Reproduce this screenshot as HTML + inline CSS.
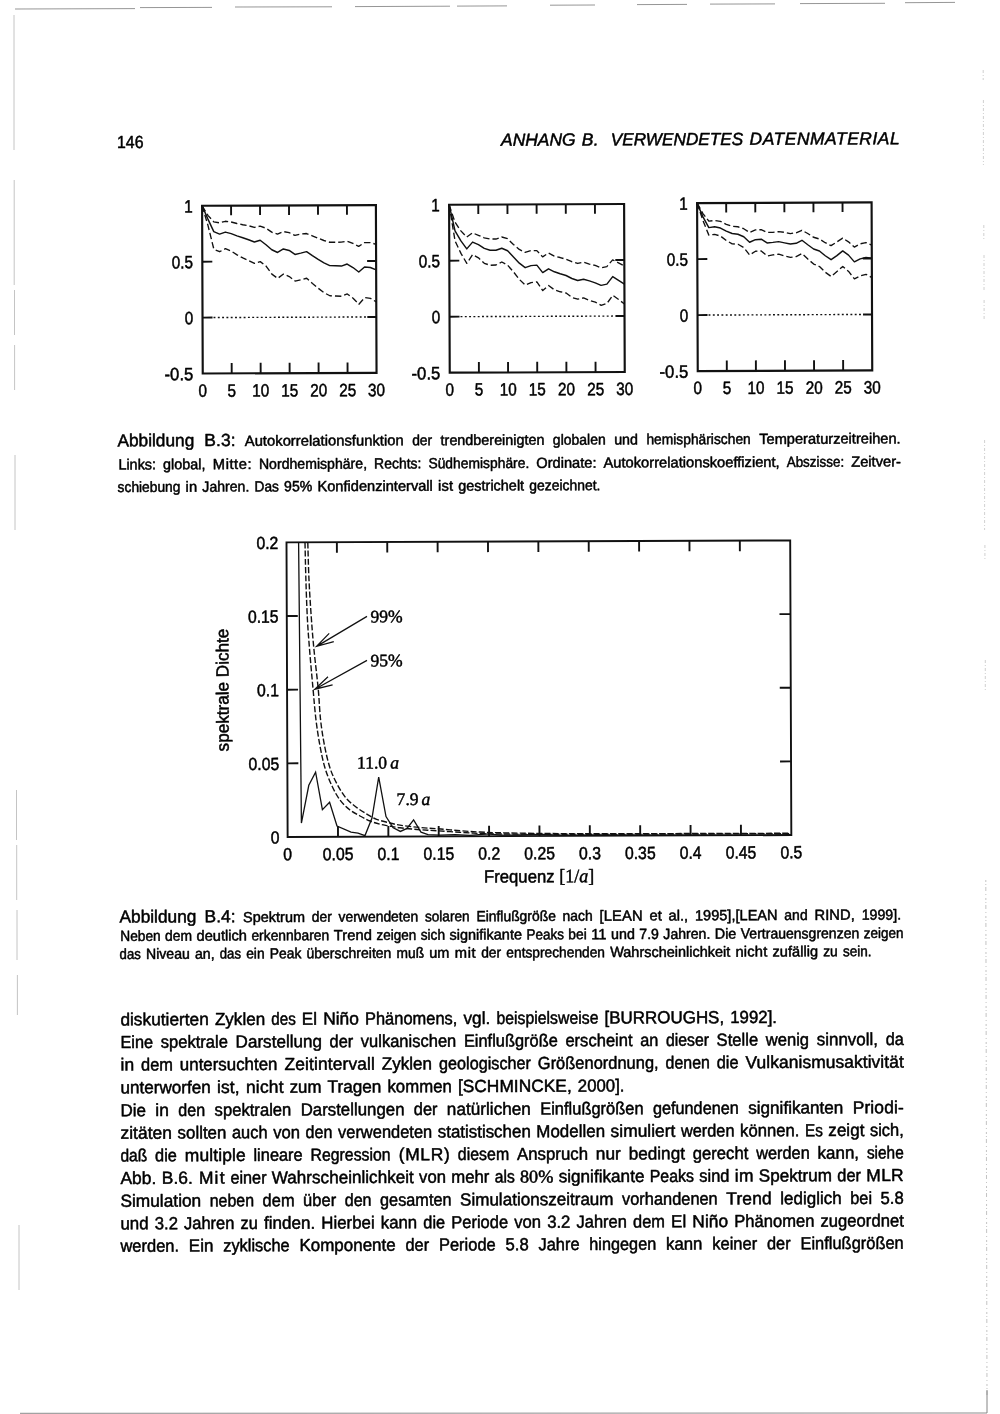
<!DOCTYPE html>
<html lang="de">
<head>
<meta charset="utf-8">
<title>Anhang B. Verwendetes Datenmaterial – Seite 146</title>
<style>
html,body{margin:0;padding:0;background:#fff;}
body{width:1000px;height:1414px;overflow:hidden;position:relative;font-family:"Liberation Sans", sans-serif;}
svg{position:absolute;left:0;top:0;display:block;filter:grayscale(1);}
svg text{font-family:"Liberation Sans", sans-serif;fill:#000;white-space:pre;stroke:#000;stroke-width:0.5px;stroke-linejoin:round;}
</style>
</head>
<body>
<svg width="1000" height="1414" viewBox="0 0 1000 1414" xml:space="preserve">
<rect width="1000" height="1414" fill="#fff"/>
<path d="M15 9.0L135 8.6M140 7.6L212 7.4M235 7.0L332 6.8M355 6.6L450 6.2M457 6.1L507 5.9M550 5.2L595 5.0M637 4.6L687 4.4M710 4.1L775 3.9M800 3.6L885 3.3M905 2.7L955 2.4" stroke="#8a8a8a" stroke-width="0.9" fill="none"/>
<path d="M14.0 15V150M14.2 180V285M14.5 290V335M14.6 345V390M15.0 455V530M16.5 790V840M16.7 845V900M17.0 910V960M17.4 975V1015M19.0 1225V1290" stroke="#b5b5b5" stroke-width="0.8" fill="none"/>
<path d="M20 1413.3L987 1413.0" stroke="#8a8a8a" stroke-width="1" fill="none"/>
<path d="M983.2 70V80M983.4 100V165M983.8 225V240M984.0 255V290M984.1 300V320M984.6 440V530M984.9 545V560M985.3 660V690" stroke="#c4c4c4" stroke-width="0.8" stroke-dasharray="3 2 1 2" fill="none"/>
<path d="M985.8 880L987 1395" stroke="#b4b4b4" stroke-width="0.8" stroke-dasharray="2 2 1 2 4 3 1 3" fill="none"/>
<path d="M987 1390V1413" stroke="#777" stroke-width="0.9" fill="none"/>
<g transform="translate(117.00 148.00) rotate(-0.22)"><text x="0.00" font-size="17.44" textLength="26.50" lengthAdjust="spacingAndGlyphs">146</text></g>
<g transform="translate(501.00 145.80) rotate(-0.22)"><text x="0.01" font-size="17.44" font-style="italic" letter-spacing="0.011">ANHANG</text><text x="80.86" font-size="17.44" font-style="italic" letter-spacing="0.311">B.</text><text x="109.87" font-size="17.44" font-style="italic" textLength="132.37" lengthAdjust="spacingAndGlyphs">VERWENDETES</text><text x="248.54" font-size="17.44" font-style="italic" letter-spacing="0.539">DATENMATERIAL</text></g>
<g transform="translate(117.40 446.40) rotate(-0.22)"><text x="0.00" font-size="17.44" textLength="76.95" lengthAdjust="spacingAndGlyphs">Abbildung</text><text x="86.90" font-size="17.44" letter-spacing="0.082">B.3:</text><text x="127.37" font-size="14.75" letter-spacing="0.032">Autokorrelationsfunktion</text><text x="294.75" font-size="14.75" textLength="20.06" lengthAdjust="spacingAndGlyphs">der</text><text x="323.21" font-size="14.75" textLength="103.87" lengthAdjust="spacingAndGlyphs">trendbereinigten</text><text x="435.46" font-size="14.75" textLength="52.92" lengthAdjust="spacingAndGlyphs">globalen</text><text x="496.77" font-size="14.75" textLength="23.87" lengthAdjust="spacingAndGlyphs">und</text><text x="529.03" font-size="14.75" textLength="104.38" lengthAdjust="spacingAndGlyphs">hemisphärischen</text><text x="641.80" font-size="14.75" textLength="141.40" lengthAdjust="spacingAndGlyphs">Temperaturzeitreihen.</text></g>
<g transform="translate(118.40 469.50) rotate(-0.22)"><text x="0.00" font-size="14.75" textLength="37.69" lengthAdjust="spacingAndGlyphs">Links:</text><text x="44.71" font-size="14.75" textLength="42.39" lengthAdjust="spacingAndGlyphs">global,</text><text x="94.40" font-size="14.75" letter-spacing="0.556">Mitte:</text><text x="140.54" font-size="14.75" textLength="108.14" lengthAdjust="spacingAndGlyphs">Nordhemisphäre,</text><text x="255.70" font-size="14.75" textLength="47.33" lengthAdjust="spacingAndGlyphs">Rechts:</text><text x="310.06" font-size="14.75" textLength="100.79" lengthAdjust="spacingAndGlyphs">Südhemisphäre.</text><text x="417.86" font-size="14.75" textLength="60.27" lengthAdjust="spacingAndGlyphs">Ordinate:</text><text x="485.16" font-size="14.75" textLength="176.14" lengthAdjust="spacingAndGlyphs">Autokorrelationskoeffizient,</text><text x="668.31" font-size="14.75" textLength="57.43" lengthAdjust="spacingAndGlyphs">Abszisse:</text><text x="732.76" font-size="14.75" textLength="49.84" lengthAdjust="spacingAndGlyphs">Zeitver-</text></g>
<g transform="translate(117.60 492.00) rotate(-0.22)"><text x="0.00" font-size="14.75" textLength="62.83" lengthAdjust="spacingAndGlyphs">schiebung</text><text x="68.00" font-size="14.75" letter-spacing="0.081">in</text><text x="84.74" font-size="14.75" textLength="46.99" lengthAdjust="spacingAndGlyphs">Jahren.</text><text x="136.87" font-size="14.75" textLength="24.44" lengthAdjust="spacingAndGlyphs">Das</text><text x="166.44" font-size="14.75" textLength="28.25" lengthAdjust="spacingAndGlyphs">95%</text><text x="199.83" font-size="14.75" textLength="115.41" lengthAdjust="spacingAndGlyphs">Konfidenzintervall</text><text x="320.44" font-size="14.75" letter-spacing="0.134">ist</text><text x="340.66" font-size="14.75" textLength="65.87" lengthAdjust="spacingAndGlyphs">gestrichelt</text><text x="411.66" font-size="14.75" textLength="71.24" lengthAdjust="spacingAndGlyphs">gezeichnet.</text></g>
<g transform="translate(119.50 922.60) rotate(-0.22)"><text x="0.00" font-size="17.44" textLength="76.95" lengthAdjust="spacingAndGlyphs">Abbildung</text><text x="84.94" font-size="17.44" letter-spacing="0.082">B.4:</text><text x="123.59" font-size="14.75" textLength="61.90" lengthAdjust="spacingAndGlyphs">Spektrum</text><text x="192.23" font-size="14.75" textLength="20.06" lengthAdjust="spacingAndGlyphs">der</text><text x="219.02" font-size="14.75" textLength="79.70" lengthAdjust="spacingAndGlyphs">verwendeten</text><text x="305.45" font-size="14.75" textLength="44.75" lengthAdjust="spacingAndGlyphs">solaren</text><text x="356.93" font-size="14.75" textLength="79.48" lengthAdjust="spacingAndGlyphs">Einflußgröße</text><text x="443.14" font-size="14.75" textLength="30.16" lengthAdjust="spacingAndGlyphs">nach</text><text x="480.09" font-size="14.75" letter-spacing="0.107">[LEAN</text><text x="529.96" font-size="14.75" letter-spacing="0.052">et</text><text x="549.07" font-size="14.75" textLength="19.64" lengthAdjust="spacingAndGlyphs">al.,</text><text x="575.44" font-size="14.75" textLength="82.69" lengthAdjust="spacingAndGlyphs">1995],[LEAN</text><text x="664.86" font-size="14.75" textLength="23.31" lengthAdjust="spacingAndGlyphs">and</text><text x="694.95" font-size="14.75" letter-spacing="0.076">RIND,</text><text x="742.17" font-size="14.75" textLength="39.53" lengthAdjust="spacingAndGlyphs">1999].</text></g>
<g transform="translate(120.20 941.00) rotate(-0.22)"><text x="0.00" font-size="14.75" textLength="40.51" lengthAdjust="spacingAndGlyphs">Neben</text><text x="44.91" font-size="14.75" textLength="27.04" lengthAdjust="spacingAndGlyphs">dem</text><text x="76.34" font-size="14.75" textLength="50.48" lengthAdjust="spacingAndGlyphs">deutlich</text><text x="131.22" font-size="14.75" textLength="77.81" lengthAdjust="spacingAndGlyphs">erkennbaren</text><text x="213.48" font-size="14.75" letter-spacing="0.103">Trend</text><text x="256.33" font-size="14.75" textLength="39.72" lengthAdjust="spacingAndGlyphs">zeigen</text><text x="300.45" font-size="14.75" textLength="24.38" lengthAdjust="spacingAndGlyphs">sich</text><text x="329.23" font-size="14.75" textLength="72.59" lengthAdjust="spacingAndGlyphs">signifikante</text><text x="406.22" font-size="14.75" textLength="37.52" lengthAdjust="spacingAndGlyphs">Peaks</text><text x="448.13" font-size="14.75" textLength="18.48" lengthAdjust="spacingAndGlyphs">bei</text><text x="471.03" font-size="14.75" letter-spacing="0.044">11</text><text x="490.81" font-size="14.75" textLength="23.87" lengthAdjust="spacingAndGlyphs">und</text><text x="519.08" font-size="14.75" textLength="19.68" lengthAdjust="spacingAndGlyphs">7.9</text><text x="543.15" font-size="14.75" textLength="46.97" lengthAdjust="spacingAndGlyphs">Jahren.</text><text x="594.52" font-size="14.75" textLength="21.65" lengthAdjust="spacingAndGlyphs">Die</text><text x="620.57" font-size="14.75" textLength="118.52" lengthAdjust="spacingAndGlyphs">Vertrauensgrenzen</text><text x="743.48" font-size="14.75" textLength="39.72" lengthAdjust="spacingAndGlyphs">zeigen</text></g>
<g transform="translate(119.60 959.00) rotate(-0.22)"><text x="0.00" font-size="14.75" textLength="21.26" lengthAdjust="spacingAndGlyphs">das</text><text x="26.39" font-size="14.75" textLength="43.89" lengthAdjust="spacingAndGlyphs">Niveau</text><text x="75.41" font-size="14.75" textLength="19.63" lengthAdjust="spacingAndGlyphs">an,</text><text x="100.18" font-size="14.75" textLength="21.26" lengthAdjust="spacingAndGlyphs">das</text><text x="126.57" font-size="14.75" textLength="18.48" lengthAdjust="spacingAndGlyphs">ein</text><text x="150.18" font-size="14.75" textLength="31.61" lengthAdjust="spacingAndGlyphs">Peak</text><text x="186.92" font-size="14.75" textLength="84.86" lengthAdjust="spacingAndGlyphs">überschreiten</text><text x="276.92" font-size="14.75" textLength="27.59" lengthAdjust="spacingAndGlyphs">muß</text><text x="309.64" font-size="14.75" textLength="20.19" lengthAdjust="spacingAndGlyphs">um</text><text x="335.26" font-size="14.75" letter-spacing="0.603">mit</text><text x="361.56" font-size="14.75" textLength="20.06" lengthAdjust="spacingAndGlyphs">der</text><text x="386.76" font-size="14.75" textLength="98.68" lengthAdjust="spacingAndGlyphs">entsprechenden</text><text x="490.57" font-size="14.75" textLength="120.11" lengthAdjust="spacingAndGlyphs">Wahrscheinlichkeit</text><text x="615.89" font-size="14.75" letter-spacing="0.168">nicht</text><text x="652.94" font-size="14.75" textLength="45.49" lengthAdjust="spacingAndGlyphs">zufällig</text><text x="703.56" font-size="14.75" textLength="14.65" lengthAdjust="spacingAndGlyphs">zu</text><text x="723.34" font-size="14.75" textLength="28.66" lengthAdjust="spacingAndGlyphs">sein.</text></g>
<g transform="translate(120.40 1025.40) rotate(-0.22)"><text x="0.00" font-size="17.44" textLength="88.41" lengthAdjust="spacingAndGlyphs">diskutierten</text><text x="94.49" font-size="17.44" textLength="50.31" lengthAdjust="spacingAndGlyphs">Zyklen</text><text x="150.87" font-size="17.44" textLength="24.49" lengthAdjust="spacingAndGlyphs">des</text><text x="181.43" font-size="17.44" textLength="15.23" lengthAdjust="spacingAndGlyphs">El</text><text x="202.74" font-size="17.44" textLength="35.78" lengthAdjust="spacingAndGlyphs">Niño</text><text x="244.59" font-size="17.44" textLength="92.36" lengthAdjust="spacingAndGlyphs">Phänomens,</text><text x="343.03" font-size="17.44" textLength="26.92" lengthAdjust="spacingAndGlyphs">vgl.</text><text x="376.02" font-size="17.44" textLength="102.03" lengthAdjust="spacingAndGlyphs">beispielsweise</text><text x="484.12" font-size="17.44" textLength="119.64" lengthAdjust="spacingAndGlyphs">[BURROUGHS,</text><text x="609.84" font-size="17.44" textLength="46.76" lengthAdjust="spacingAndGlyphs">1992].</text></g>
<g transform="translate(120.40 1048.00) rotate(-0.22)"><text x="0.00" font-size="17.44" textLength="32.71" lengthAdjust="spacingAndGlyphs">Eine</text><text x="40.29" font-size="17.44" textLength="67.34" lengthAdjust="spacingAndGlyphs">spektrale</text><text x="115.21" font-size="17.44" textLength="86.35" lengthAdjust="spacingAndGlyphs">Darstellung</text><text x="209.13" font-size="17.44" textLength="23.71" lengthAdjust="spacingAndGlyphs">der</text><text x="240.42" font-size="17.44" textLength="95.50" lengthAdjust="spacingAndGlyphs">vulkanischen</text><text x="343.50" font-size="17.44" textLength="93.93" lengthAdjust="spacingAndGlyphs">Einflußgröße</text><text x="445.01" font-size="17.44" textLength="67.19" lengthAdjust="spacingAndGlyphs">erscheint</text><text x="519.78" font-size="17.44" textLength="18.15" lengthAdjust="spacingAndGlyphs">an</text><text x="545.51" font-size="17.44" textLength="43.12" lengthAdjust="spacingAndGlyphs">dieser</text><text x="596.21" font-size="17.44" textLength="41.56" lengthAdjust="spacingAndGlyphs">Stelle</text><text x="645.34" font-size="17.44" textLength="43.38" lengthAdjust="spacingAndGlyphs">wenig</text><text x="696.30" font-size="17.44" textLength="61.37" lengthAdjust="spacingAndGlyphs">sinnvoll,</text><text x="765.25" font-size="17.44" textLength="18.15" lengthAdjust="spacingAndGlyphs">da</text></g>
<g transform="translate(120.40 1070.60) rotate(-0.22)"><text x="0.04" font-size="17.44" letter-spacing="0.090">in</text><text x="20.64" font-size="17.44" textLength="31.95" lengthAdjust="spacingAndGlyphs">dem</text><text x="59.47" font-size="17.44" textLength="97.62" lengthAdjust="spacingAndGlyphs">untersuchten</text><text x="164.04" font-size="17.44" letter-spacing="0.111">Zeitintervall</text><text x="261.46" font-size="17.44" textLength="50.25" lengthAdjust="spacingAndGlyphs">Zyklen</text><text x="318.60" font-size="17.44" textLength="91.96" lengthAdjust="spacingAndGlyphs">geologischer</text><text x="417.45" font-size="17.44" textLength="120.78" lengthAdjust="spacingAndGlyphs">Größenordnung,</text><text x="545.11" font-size="17.44" textLength="44.39" lengthAdjust="spacingAndGlyphs">denen</text><text x="596.38" font-size="17.44" textLength="21.84" lengthAdjust="spacingAndGlyphs">die</text><text x="625.13" font-size="17.44" letter-spacing="0.048">Vulkanismusaktivität</text></g>
<g transform="translate(120.40 1093.40) rotate(-0.22)"><text x="0.00" font-size="17.44" textLength="90.42" lengthAdjust="spacingAndGlyphs">unterworfen</text><text x="96.56" font-size="17.44" letter-spacing="0.163">ist,</text><text x="125.57" font-size="17.44" letter-spacing="0.190">nicht</text><text x="169.32" font-size="17.44" textLength="31.75" lengthAdjust="spacingAndGlyphs">zum</text><text x="207.13" font-size="17.44" textLength="53.90" lengthAdjust="spacingAndGlyphs">Tragen</text><text x="267.09" font-size="17.44" textLength="64.35" lengthAdjust="spacingAndGlyphs">kommen</text><text x="337.51" font-size="17.44" textLength="113.86" lengthAdjust="spacingAndGlyphs">[SCHMINCKE,</text><text x="457.43" font-size="17.44" textLength="46.67" lengthAdjust="spacingAndGlyphs">2000].</text></g>
<g transform="translate(120.40 1116.20) rotate(-0.22)"><text x="0.00" font-size="17.44" textLength="25.58" lengthAdjust="spacingAndGlyphs">Die</text><text x="34.95" font-size="17.44" letter-spacing="0.090">in</text><text x="57.98" font-size="17.44" textLength="26.90" lengthAdjust="spacingAndGlyphs">den</text><text x="94.21" font-size="17.44" textLength="76.74" lengthAdjust="spacingAndGlyphs">spektralen</text><text x="180.28" font-size="17.44" textLength="103.84" lengthAdjust="spacingAndGlyphs">Darstellungen</text><text x="293.44" font-size="17.44" textLength="23.71" lengthAdjust="spacingAndGlyphs">der</text><text x="326.48" font-size="17.44" textLength="84.02" lengthAdjust="spacingAndGlyphs">natürlichen</text><text x="419.83" font-size="17.44" textLength="103.34" lengthAdjust="spacingAndGlyphs">Einflußgrößen</text><text x="532.49" font-size="17.44" textLength="85.95" lengthAdjust="spacingAndGlyphs">gefundenen</text><text x="627.77" font-size="17.44" textLength="95.20" lengthAdjust="spacingAndGlyphs">signifikanten</text><text x="732.34" font-size="17.44" letter-spacing="0.103">Priodi-</text></g>
<g transform="translate(120.40 1138.80) rotate(-0.22)"><text x="0.02" font-size="17.44" letter-spacing="0.038">zitäten</text><text x="57.18" font-size="17.44" textLength="48.84" lengthAdjust="spacingAndGlyphs">sollten</text><text x="111.56" font-size="17.44" textLength="35.64" lengthAdjust="spacingAndGlyphs">auch</text><text x="152.74" font-size="17.44" textLength="26.90" lengthAdjust="spacingAndGlyphs">von</text><text x="185.18" font-size="17.44" textLength="26.90" lengthAdjust="spacingAndGlyphs">den</text><text x="217.62" font-size="17.44" textLength="94.19" lengthAdjust="spacingAndGlyphs">verwendeten</text><text x="317.34" font-size="17.44" textLength="93.07" lengthAdjust="spacingAndGlyphs">statistischen</text><text x="415.96" font-size="17.44" textLength="68.71" lengthAdjust="spacingAndGlyphs">Modellen</text><text x="490.20" font-size="17.44" textLength="64.76" lengthAdjust="spacingAndGlyphs">simuliert</text><text x="560.51" font-size="17.44" textLength="53.64" lengthAdjust="spacingAndGlyphs">werden</text><text x="619.69" font-size="17.44" textLength="59.35" lengthAdjust="spacingAndGlyphs">können.</text><text x="684.58" font-size="17.44" textLength="17.85" lengthAdjust="spacingAndGlyphs">Es</text><text x="707.97" font-size="17.44" textLength="36.02" lengthAdjust="spacingAndGlyphs">zeigt</text><text x="749.53" font-size="17.44" textLength="33.87" lengthAdjust="spacingAndGlyphs">sich,</text></g>
<g transform="translate(120.40 1161.40) rotate(-0.22)"><text x="0.00" font-size="17.44" textLength="26.90" lengthAdjust="spacingAndGlyphs">daß</text><text x="34.69" font-size="17.44" textLength="21.84" lengthAdjust="spacingAndGlyphs">die</text><text x="64.38" font-size="17.44" letter-spacing="0.111">multiple</text><text x="133.09" font-size="17.44" textLength="49.24" lengthAdjust="spacingAndGlyphs">lineare</text><text x="190.13" font-size="17.44" textLength="80.06" lengthAdjust="spacingAndGlyphs">Regression</text><text x="278.31" font-size="17.44" letter-spacing="0.653">(MLR)</text><text x="337.47" font-size="17.44" textLength="51.36" lengthAdjust="spacingAndGlyphs">diesem</text><text x="396.63" font-size="17.44" textLength="71.03" lengthAdjust="spacingAndGlyphs">Anspruch</text><text x="475.46" font-size="17.44" textLength="25.03" lengthAdjust="spacingAndGlyphs">nur</text><text x="508.28" font-size="17.44" textLength="56.32" lengthAdjust="spacingAndGlyphs">bedingt</text><text x="572.40" font-size="17.44" textLength="55.56" lengthAdjust="spacingAndGlyphs">gerecht</text><text x="635.76" font-size="17.44" textLength="53.64" lengthAdjust="spacingAndGlyphs">werden</text><text x="697.19" font-size="17.44" textLength="41.51" lengthAdjust="spacingAndGlyphs">kann,</text><text x="746.49" font-size="17.44" textLength="36.91" lengthAdjust="spacingAndGlyphs">siehe</text></g>
<g transform="translate(120.40 1184.00) rotate(-0.22)"><text x="0.02" font-size="17.44" letter-spacing="0.031">Abb.</text><text x="41.31" font-size="17.44" letter-spacing="0.082">B.6.</text><text x="78.49" font-size="17.44" letter-spacing="1.200">Mit</text><text x="110.01" font-size="17.44" textLength="36.15" lengthAdjust="spacingAndGlyphs">einer</text><text x="151.43" font-size="17.44" textLength="141.96" lengthAdjust="spacingAndGlyphs">Wahrscheinlichkeit</text><text x="298.67" font-size="17.44" textLength="26.90" lengthAdjust="spacingAndGlyphs">von</text><text x="330.84" font-size="17.44" textLength="38.17" lengthAdjust="spacingAndGlyphs">mehr</text><text x="374.29" font-size="17.44" textLength="20.07" lengthAdjust="spacingAndGlyphs">als</text><text x="399.63" font-size="17.96" style='font-family:"Liberation Serif", serif;stroke-width:0.5px' textLength="33.37" lengthAdjust="spacingAndGlyphs">80%</text><text x="438.28" font-size="17.44" textLength="85.79" lengthAdjust="spacingAndGlyphs">signifikante</text><text x="529.34" font-size="17.44" textLength="44.34" lengthAdjust="spacingAndGlyphs">Peaks</text><text x="578.96" font-size="17.44" textLength="30.13" lengthAdjust="spacingAndGlyphs">sind</text><text x="614.47" font-size="17.44" letter-spacing="0.204">im</text><text x="638.45" font-size="17.44" textLength="73.15" lengthAdjust="spacingAndGlyphs">Spektrum</text><text x="716.88" font-size="17.44" textLength="23.71" lengthAdjust="spacingAndGlyphs">der</text><text x="745.98" font-size="17.44" letter-spacing="0.240">MLR</text></g>
<g transform="translate(120.40 1206.80) rotate(-0.22)"><text x="0.00" font-size="17.44" textLength="80.84" lengthAdjust="spacingAndGlyphs">Simulation</text><text x="89.34" font-size="17.44" textLength="44.39" lengthAdjust="spacingAndGlyphs">neben</text><text x="142.22" font-size="17.44" textLength="31.95" lengthAdjust="spacingAndGlyphs">dem</text><text x="182.68" font-size="17.44" textLength="33.11" lengthAdjust="spacingAndGlyphs">über</text><text x="224.29" font-size="17.44" textLength="26.90" lengthAdjust="spacingAndGlyphs">den</text><text x="259.68" font-size="17.44" textLength="71.44" lengthAdjust="spacingAndGlyphs">gesamten</text><text x="339.62" font-size="17.44" textLength="153.56" lengthAdjust="spacingAndGlyphs">Simulationszeitraum</text><text x="501.68" font-size="17.44" textLength="95.65" lengthAdjust="spacingAndGlyphs">vorhandenen</text><text x="605.89" font-size="17.44" letter-spacing="0.119">Trend</text><text x="659.83" font-size="17.44" textLength="61.48" lengthAdjust="spacingAndGlyphs">lediglich</text><text x="729.81" font-size="17.44" textLength="21.84" lengthAdjust="spacingAndGlyphs">bei</text><text x="760.14" font-size="17.44" textLength="23.26" lengthAdjust="spacingAndGlyphs">5.8</text></g>
<g transform="translate(120.40 1229.40) rotate(-0.22)"><text x="0.00" font-size="17.44" textLength="28.21" lengthAdjust="spacingAndGlyphs">und</text><text x="34.29" font-size="17.44" textLength="23.26" lengthAdjust="spacingAndGlyphs">3.2</text><text x="63.63" font-size="17.44" textLength="50.45" lengthAdjust="spacingAndGlyphs">Jahren</text><text x="120.17" font-size="17.44" textLength="17.32" lengthAdjust="spacingAndGlyphs">zu</text><text x="143.56" font-size="17.44" textLength="51.26" lengthAdjust="spacingAndGlyphs">finden.</text><text x="200.91" font-size="17.44" textLength="53.39" lengthAdjust="spacingAndGlyphs">Hierbei</text><text x="260.38" font-size="17.44" textLength="36.45" lengthAdjust="spacingAndGlyphs">kann</text><text x="302.91" font-size="17.44" textLength="21.84" lengthAdjust="spacingAndGlyphs">die</text><text x="330.83" font-size="17.44" textLength="56.88" lengthAdjust="spacingAndGlyphs">Periode</text><text x="393.79" font-size="17.44" textLength="26.90" lengthAdjust="spacingAndGlyphs">von</text><text x="426.77" font-size="17.44" textLength="23.26" lengthAdjust="spacingAndGlyphs">3.2</text><text x="456.10" font-size="17.44" textLength="50.45" lengthAdjust="spacingAndGlyphs">Jahren</text><text x="512.64" font-size="17.44" textLength="31.95" lengthAdjust="spacingAndGlyphs">dem</text><text x="550.67" font-size="17.44" textLength="15.22" lengthAdjust="spacingAndGlyphs">El</text><text x="571.97" font-size="17.44" textLength="35.74" lengthAdjust="spacingAndGlyphs">Niño</text><text x="613.80" font-size="17.44" textLength="80.23" lengthAdjust="spacingAndGlyphs">Phänomen</text><text x="700.11" font-size="17.44" textLength="83.29" lengthAdjust="spacingAndGlyphs">zugeordnet</text></g>
<g transform="translate(120.40 1251.80) rotate(-0.22)"><text x="0.00" font-size="17.44" textLength="58.70" lengthAdjust="spacingAndGlyphs">werden.</text><text x="68.45" font-size="17.44" textLength="24.62" lengthAdjust="spacingAndGlyphs">Ein</text><text x="102.82" font-size="17.44" textLength="66.46" lengthAdjust="spacingAndGlyphs">zyklische</text><text x="179.02" font-size="17.44" textLength="96.26" lengthAdjust="spacingAndGlyphs">Komponente</text><text x="285.03" font-size="17.44" textLength="23.71" lengthAdjust="spacingAndGlyphs">der</text><text x="318.49" font-size="17.44" textLength="56.88" lengthAdjust="spacingAndGlyphs">Periode</text><text x="385.11" font-size="17.44" textLength="23.26" lengthAdjust="spacingAndGlyphs">5.8</text><text x="418.12" font-size="17.44" textLength="41.05" lengthAdjust="spacingAndGlyphs">Jahre</text><text x="468.92" font-size="17.44" textLength="66.94" lengthAdjust="spacingAndGlyphs">hingegen</text><text x="545.61" font-size="17.44" textLength="36.45" lengthAdjust="spacingAndGlyphs">kann</text><text x="591.81" font-size="17.44" textLength="45.05" lengthAdjust="spacingAndGlyphs">keiner</text><text x="646.60" font-size="17.44" textLength="23.71" lengthAdjust="spacingAndGlyphs">der</text><text x="680.06" font-size="17.44" textLength="103.34" lengthAdjust="spacingAndGlyphs">Einflußgrößen</text></g>
<g transform="translate(202.10 205.80) rotate(-0.22)">
<rect x="0" y="0" width="173.80" height="167.70" fill="none" stroke="#111" stroke-width="2.15"/>
<path d="M28.97 0V9.5M28.97 167.70V157.20" stroke="#111" stroke-width="1.9"/>
<path d="M57.93 0V9.5M57.93 167.70V157.20" stroke="#111" stroke-width="1.9"/>
<path d="M86.90 0V9.5M86.90 167.70V157.20" stroke="#111" stroke-width="1.9"/>
<path d="M115.87 0V9.5M115.87 167.70V157.20" stroke="#111" stroke-width="1.9"/>
<path d="M144.83 0V9.5M144.83 167.70V157.20" stroke="#111" stroke-width="1.9"/>
<path d="M0 55.90H10M173.80 55.90H164.80" stroke="#111" stroke-width="1.9"/>
<path d="M0 111.80H10M173.80 111.80H164.80" stroke="#111" stroke-width="1.9"/>
<path d="M11 111.80H164.80" stroke="#111" stroke-width="1.4" stroke-dasharray="1.9 2.4"/>
<polyline points="0.00,0.00 5.79,13.32 11.59,25.88 17.38,28.39 23.17,26.38 28.97,27.89 34.76,30.15 40.55,32.16 46.35,34.17 52.14,36.43 57.93,34.67 63.73,39.19 69.52,44.22 75.31,46.98 81.11,43.46 86.90,44.97 92.69,48.99 98.49,47.73 104.28,46.23 110.07,50.25 115.87,54.02 121.66,57.53 127.45,60.30 133.25,60.55 139.04,60.80 144.83,58.79 150.63,62.31 156.42,66.83 162.21,61.80 168.01,62.31 173.80,64.82" fill="none" stroke="#111" stroke-width="1.45" stroke-linejoin="round"/>
<polyline points="0.00,0.00 5.79,9.55 11.59,16.08 17.38,17.08 23.17,15.58 28.97,16.33 34.76,17.84 40.55,19.09 46.35,20.10 52.14,21.86 57.93,20.60 63.73,22.61 69.52,26.63 75.31,28.64 81.11,26.13 86.90,27.13 92.69,29.90 98.49,28.64 104.28,28.14 110.07,30.40 115.87,32.91 121.66,35.17 127.45,36.93 133.25,36.93 139.04,36.93 144.83,35.93 150.63,38.19 156.42,41.20 162.21,37.43 168.01,37.43 173.80,39.19" fill="none" stroke="#111" stroke-width="1.35" stroke-dasharray="6.4 3" stroke-linejoin="round"/>
<polyline points="0.00,0.00 5.79,19.60 11.59,43.46 17.38,45.98 23.17,42.96 28.97,45.47 34.76,49.24 40.55,52.26 46.35,55.02 52.14,57.78 57.93,56.03 63.73,60.55 69.52,68.59 75.31,72.86 81.11,68.59 86.90,71.10 92.69,75.62 98.49,74.37 104.28,72.86 110.07,78.13 115.87,82.91 121.66,87.43 127.45,90.44 133.25,90.70 139.04,90.95 144.83,88.69 150.63,92.96 156.42,98.99 162.21,92.45 168.01,93.21 173.80,96.73" fill="none" stroke="#111" stroke-width="1.35" stroke-dasharray="6.4 3" stroke-linejoin="round"/>
<text x="-9.40" y="6.60" font-size="17.8" text-anchor="end" transform="translate(-9.40 0) scale(0.86 1) translate(9.40 0)">1</text>
<text x="-9.40" y="62.50" font-size="17.8" text-anchor="end" transform="translate(-9.40 0) scale(0.86 1) translate(9.40 0)">0.5</text>
<text x="-9.40" y="118.40" font-size="17.8" text-anchor="end" transform="translate(-9.40 0) scale(0.86 1) translate(9.40 0)">0</text>
<text x="-9.40" y="174.30" font-size="17.8" text-anchor="end" transform="translate(-9.40 0) scale(0.94 1) translate(9.40 0)">-0.5</text>
<text x="0.00" y="191.00" font-size="17.8" text-anchor="middle" transform="translate(0.00 0) scale(0.86 1) translate(-0.00 0)">0</text>
<text x="28.97" y="191.00" font-size="17.8" text-anchor="middle" transform="translate(28.97 0) scale(0.86 1) translate(-28.97 0)">5</text>
<text x="57.93" y="191.00" font-size="17.8" text-anchor="middle" transform="translate(57.93 0) scale(0.86 1) translate(-57.93 0)">10</text>
<text x="86.90" y="191.00" font-size="17.8" text-anchor="middle" transform="translate(86.90 0) scale(0.86 1) translate(-86.90 0)">15</text>
<text x="115.87" y="191.00" font-size="17.8" text-anchor="middle" transform="translate(115.87 0) scale(0.86 1) translate(-115.87 0)">20</text>
<text x="144.83" y="191.00" font-size="17.8" text-anchor="middle" transform="translate(144.83 0) scale(0.86 1) translate(-144.83 0)">25</text>
<text x="173.80" y="191.00" font-size="17.8" text-anchor="middle" transform="translate(173.80 0) scale(0.86 1) translate(-173.80 0)">30</text>
</g>
<g transform="translate(449.10 204.70) rotate(-0.22)">
<rect x="0" y="0" width="175.00" height="168.00" fill="none" stroke="#111" stroke-width="2.15"/>
<path d="M29.17 0V9.5M29.17 168.00V157.50" stroke="#111" stroke-width="1.9"/>
<path d="M58.33 0V9.5M58.33 168.00V157.50" stroke="#111" stroke-width="1.9"/>
<path d="M87.50 0V9.5M87.50 168.00V157.50" stroke="#111" stroke-width="1.9"/>
<path d="M116.67 0V9.5M116.67 168.00V157.50" stroke="#111" stroke-width="1.9"/>
<path d="M145.83 0V9.5M145.83 168.00V157.50" stroke="#111" stroke-width="1.9"/>
<path d="M0 56.00H10M175.00 56.00H166.00" stroke="#111" stroke-width="1.9"/>
<path d="M0 112.00H10M175.00 112.00H166.00" stroke="#111" stroke-width="1.9"/>
<path d="M11 112.00H166.00" stroke="#111" stroke-width="1.4" stroke-dasharray="1.9 2.4"/>
<polyline points="0.00,0.00 5.83,26.25 11.67,36.25 17.50,44.25 23.33,37.50 29.17,40.00 35.00,43.75 40.83,45.75 46.67,45.75 52.50,43.75 58.33,46.25 64.17,52.50 70.00,58.75 75.83,63.25 81.67,61.25 87.50,60.75 93.33,68.25 99.17,64.50 105.00,67.50 110.83,69.50 116.67,71.25 122.50,74.25 128.33,76.25 134.17,75.00 140.00,76.75 145.83,78.75 151.67,81.25 157.50,80.00 163.33,72.50 169.17,76.25 175.00,80.00" fill="none" stroke="#111" stroke-width="1.45" stroke-linejoin="round"/>
<polyline points="0.00,0.00 5.83,17.50 11.67,26.25 17.50,32.50 23.33,28.25 29.17,30.75 35.00,33.25 40.83,34.50 46.67,34.50 52.50,32.50 58.33,34.25 64.17,40.00 70.00,45.00 75.83,48.00 81.67,46.25 87.50,46.25 93.33,52.50 99.17,48.75 105.00,51.75 110.83,53.25 116.67,55.00 122.50,57.50 128.33,59.25 134.17,58.00 140.00,60.00 145.83,61.25 151.67,63.75 157.50,62.50 163.33,55.75 169.17,58.75 175.00,62.00" fill="none" stroke="#111" stroke-width="1.35" stroke-dasharray="6.4 3" stroke-linejoin="round"/>
<polyline points="0.00,0.00 5.83,36.25 11.67,48.75 17.50,58.75 23.33,50.00 29.17,53.25 35.00,58.75 40.83,60.75 46.67,60.50 52.50,57.50 58.33,60.75 64.17,67.50 70.00,75.00 75.83,80.75 81.67,78.25 87.50,77.50 93.33,86.25 99.17,81.25 105.00,85.50 110.83,87.50 116.67,88.75 122.50,93.25 128.33,95.00 134.17,93.75 140.00,96.25 145.83,98.00 151.67,101.25 157.50,99.25 163.33,91.25 169.17,95.50 175.00,100.00" fill="none" stroke="#111" stroke-width="1.35" stroke-dasharray="6.4 3" stroke-linejoin="round"/>
<text x="-9.40" y="6.60" font-size="17.8" text-anchor="end" transform="translate(-9.40 0) scale(0.86 1) translate(9.40 0)">1</text>
<text x="-9.40" y="62.60" font-size="17.8" text-anchor="end" transform="translate(-9.40 0) scale(0.86 1) translate(9.40 0)">0.5</text>
<text x="-9.40" y="118.60" font-size="17.8" text-anchor="end" transform="translate(-9.40 0) scale(0.86 1) translate(9.40 0)">0</text>
<text x="-9.40" y="174.60" font-size="17.8" text-anchor="end" transform="translate(-9.40 0) scale(0.94 1) translate(9.40 0)">-0.5</text>
<text x="0.00" y="191.00" font-size="17.8" text-anchor="middle" transform="translate(0.00 0) scale(0.86 1) translate(-0.00 0)">0</text>
<text x="29.17" y="191.00" font-size="17.8" text-anchor="middle" transform="translate(29.17 0) scale(0.86 1) translate(-29.17 0)">5</text>
<text x="58.33" y="191.00" font-size="17.8" text-anchor="middle" transform="translate(58.33 0) scale(0.86 1) translate(-58.33 0)">10</text>
<text x="87.50" y="191.00" font-size="17.8" text-anchor="middle" transform="translate(87.50 0) scale(0.86 1) translate(-87.50 0)">15</text>
<text x="116.67" y="191.00" font-size="17.8" text-anchor="middle" transform="translate(116.67 0) scale(0.86 1) translate(-116.67 0)">20</text>
<text x="145.83" y="191.00" font-size="17.8" text-anchor="middle" transform="translate(145.83 0) scale(0.86 1) translate(-145.83 0)">25</text>
<text x="175.00" y="191.00" font-size="17.8" text-anchor="middle" transform="translate(175.00 0) scale(0.86 1) translate(-175.00 0)">30</text>
</g>
<g transform="translate(697.10 203.10) rotate(-0.22)">
<rect x="0" y="0" width="174.50" height="168.00" fill="none" stroke="#111" stroke-width="2.15"/>
<path d="M29.08 0V9.5M29.08 168.00V157.50" stroke="#111" stroke-width="1.9"/>
<path d="M58.17 0V9.5M58.17 168.00V157.50" stroke="#111" stroke-width="1.9"/>
<path d="M87.25 0V9.5M87.25 168.00V157.50" stroke="#111" stroke-width="1.9"/>
<path d="M116.33 0V9.5M116.33 168.00V157.50" stroke="#111" stroke-width="1.9"/>
<path d="M145.42 0V9.5M145.42 168.00V157.50" stroke="#111" stroke-width="1.9"/>
<path d="M0 56.00H10M174.50 56.00H165.50" stroke="#111" stroke-width="1.9"/>
<path d="M0 112.00H10M174.50 112.00H165.50" stroke="#111" stroke-width="1.9"/>
<path d="M11 112.00H165.50" stroke="#111" stroke-width="1.4" stroke-dasharray="1.9 2.4"/>
<polyline points="0.00,0.00 5.82,13.78 11.63,24.55 17.45,23.80 23.27,25.06 29.08,28.06 34.90,30.57 40.72,31.32 46.53,33.83 52.35,39.34 58.17,36.83 63.98,36.33 69.80,40.09 75.62,39.59 81.43,38.84 87.25,40.09 93.07,41.34 98.88,40.59 104.70,37.58 110.52,42.09 116.33,46.35 122.15,48.36 127.97,53.12 133.78,57.13 139.60,53.12 145.42,48.36 151.23,52.62 157.05,59.38 162.87,56.38 168.68,55.12 174.50,55.87" fill="none" stroke="#111" stroke-width="1.45" stroke-linejoin="round"/>
<polyline points="0.00,0.00 5.82,10.52 11.63,18.04 17.45,17.54 23.27,18.29 29.08,21.30 34.90,23.30 40.72,23.80 46.53,25.81 52.35,29.57 58.17,27.06 63.98,26.81 69.80,29.57 75.62,29.57 81.43,28.81 87.25,29.57 93.07,30.82 98.88,30.07 104.70,27.56 110.52,30.82 116.33,34.58 122.15,36.33 127.97,40.09 133.78,43.10 139.60,39.34 145.42,35.58 151.23,39.34 157.05,44.60 162.87,41.34 168.68,40.09 174.50,42.60" fill="none" stroke="#111" stroke-width="1.35" stroke-dasharray="6.4 3" stroke-linejoin="round"/>
<polyline points="0.00,0.00 5.82,17.54 11.63,32.07 17.45,31.32 23.27,33.07 29.08,37.58 34.90,40.84 40.72,41.34 46.53,44.60 52.35,52.12 58.17,48.36 63.98,48.11 69.80,53.12 75.62,52.12 81.43,51.36 87.25,53.12 93.07,54.62 98.88,53.87 104.70,50.86 110.52,56.38 116.33,61.39 122.15,63.89 127.97,69.66 133.78,73.91 139.60,68.90 145.42,63.89 151.23,68.90 157.05,76.42 162.87,73.41 168.68,71.91 174.50,75.17" fill="none" stroke="#111" stroke-width="1.35" stroke-dasharray="6.4 3" stroke-linejoin="round"/>
<text x="-9.40" y="6.60" font-size="17.8" text-anchor="end" transform="translate(-9.40 0) scale(0.86 1) translate(9.40 0)">1</text>
<text x="-9.40" y="62.60" font-size="17.8" text-anchor="end" transform="translate(-9.40 0) scale(0.86 1) translate(9.40 0)">0.5</text>
<text x="-9.40" y="118.60" font-size="17.8" text-anchor="end" transform="translate(-9.40 0) scale(0.86 1) translate(9.40 0)">0</text>
<text x="-9.40" y="174.60" font-size="17.8" text-anchor="end" transform="translate(-9.40 0) scale(0.94 1) translate(9.40 0)">-0.5</text>
<text x="0.00" y="191.00" font-size="17.8" text-anchor="middle" transform="translate(0.00 0) scale(0.86 1) translate(-0.00 0)">0</text>
<text x="29.08" y="191.00" font-size="17.8" text-anchor="middle" transform="translate(29.08 0) scale(0.86 1) translate(-29.08 0)">5</text>
<text x="58.17" y="191.00" font-size="17.8" text-anchor="middle" transform="translate(58.17 0) scale(0.86 1) translate(-58.17 0)">10</text>
<text x="87.25" y="191.00" font-size="17.8" text-anchor="middle" transform="translate(87.25 0) scale(0.86 1) translate(-87.25 0)">15</text>
<text x="116.33" y="191.00" font-size="17.8" text-anchor="middle" transform="translate(116.33 0) scale(0.86 1) translate(-116.33 0)">20</text>
<text x="145.42" y="191.00" font-size="17.8" text-anchor="middle" transform="translate(145.42 0) scale(0.86 1) translate(-145.42 0)">25</text>
<text x="174.50" y="191.00" font-size="17.8" text-anchor="middle" transform="translate(174.50 0) scale(0.86 1) translate(-174.50 0)">30</text>
</g>
<g transform="translate(286.5 542.4) rotate(-0.22)">
<rect x="0" y="0" width="503.7" height="294.6" fill="none" stroke="#111" stroke-width="1.9"/>
<path d="M50.37 0V10.5M50.37 294.6V284.1" stroke="#111" stroke-width="1.9"/>
<path d="M100.74 0V10.5M100.74 294.6V284.1" stroke="#111" stroke-width="1.9"/>
<path d="M151.11 0V10.5M151.11 294.6V284.1" stroke="#111" stroke-width="1.9"/>
<path d="M201.48 0V10.5M201.48 294.6V284.1" stroke="#111" stroke-width="1.9"/>
<path d="M251.85 0V10.5M251.85 294.6V284.1" stroke="#111" stroke-width="1.9"/>
<path d="M302.22 0V10.5M302.22 294.6V284.1" stroke="#111" stroke-width="1.9"/>
<path d="M352.59 0V10.5M352.59 294.6V284.1" stroke="#111" stroke-width="1.9"/>
<path d="M402.96 0V10.5M402.96 294.6V284.1" stroke="#111" stroke-width="1.9"/>
<path d="M453.33 0V10.5M453.33 294.6V284.1" stroke="#111" stroke-width="1.9"/>
<path d="M0 73.65H11M503.7 73.65H492.7" stroke="#111" stroke-width="1.9"/>
<path d="M0 147.30H11M503.7 147.30H492.7" stroke="#111" stroke-width="1.9"/>
<path d="M0 220.95H11M503.7 220.95H492.7" stroke="#111" stroke-width="1.9"/>
<polyline points="12.10,0.15 13.82,280.66 21.37,242.98 28.22,229.91 34.87,267.34 42.10,259.96 49.41,283.79 63.39,290.05 70.38,291.07 77.37,293.50 84.44,275.93 91.30,235.15 98.45,274.48 105.60,285.81 112.79,289.44 119.40,286.46 126.03,277.89 133.39,290.31 140.38,292.74 152.37,293.39 167.38,292.84 182.37,293.70 200.38,292.17 212.37,293.62 232.37,293.49 252.38,292.97 272.37,293.85 312.37,293.80 412.37,294.39 502.37,294.93" fill="none" stroke="#111" stroke-width="1.3" stroke-linejoin="miter"/>
<path d="M18.50 0.17C18.63 6.42 18.90 24.92 19.26 37.67C19.61 50.43 20.03 65.01 20.61 76.68C21.18 88.35 21.80 96.08 22.69 107.69C23.58 119.29 24.92 134.63 25.94 146.30C26.96 157.97 27.69 168.14 28.82 177.71C29.95 187.28 31.25 195.72 32.72 203.73C34.19 211.73 35.66 219.07 37.63 225.75C39.61 232.42 42.08 238.43 44.56 243.77C47.04 249.12 49.53 253.79 52.51 257.80C55.50 261.82 59.15 265.16 62.47 267.84C65.80 270.52 69.12 272.03 72.45 273.88C75.78 275.73 79.10 277.53 82.43 278.92C85.76 280.31 89.33 281.39 92.43 282.20C95.53 283.01 97.69 283.20 101.02 283.80C104.35 284.40 107.18 285.13 112.41 285.80C117.64 286.47 126.08 287.27 132.41 287.80C138.74 288.33 143.74 288.53 150.40 289.00C157.07 289.47 165.40 290.13 172.40 290.60C179.39 291.07 185.73 291.50 192.39 291.80C199.06 292.10 202.39 292.23 212.39 292.40C222.39 292.57 239.05 292.70 252.39 292.80C265.72 292.90 275.72 292.95 292.39 293.00C309.05 293.05 332.39 293.08 352.39 293.10C372.39 293.12 387.39 293.13 412.39 293.15C437.39 293.17 487.39 293.19 502.39 293.20" fill="none" stroke="#111" stroke-width="1.4" stroke-dasharray="6 2.2"/>
<path d="M21.30 0.18C21.48 6.43 21.80 24.93 22.36 37.69C22.91 50.44 23.82 65.03 24.61 76.70C25.39 88.36 26.00 96.10 27.09 107.70C28.18 119.31 30.08 134.65 31.14 146.32C32.19 157.99 32.39 168.16 33.42 177.73C34.45 187.30 35.78 195.74 37.32 203.74C38.85 211.75 40.59 219.42 42.63 225.77C44.68 232.11 46.92 236.78 49.57 241.79C52.22 246.80 55.37 251.98 58.52 255.83C61.67 259.67 65.16 262.25 68.48 264.86C71.81 267.48 75.13 269.48 78.46 271.50C81.79 273.53 84.68 275.48 88.45 277.00C92.21 278.52 97.04 279.57 101.03 280.60C105.03 281.63 107.19 282.37 112.42 283.20C117.65 284.03 126.08 284.97 132.41 285.60C138.75 286.23 143.74 286.43 150.41 287.00C157.07 287.57 165.40 288.43 172.40 289.00C179.40 289.57 185.73 290.03 192.40 290.40C199.06 290.77 202.39 290.93 212.39 291.20C222.39 291.47 239.06 291.80 252.39 292.00C265.72 292.20 275.72 292.30 292.39 292.40C309.06 292.50 332.39 292.55 352.39 292.60C372.39 292.65 387.39 292.67 412.39 292.70C437.39 292.73 487.39 292.78 502.39 292.80" fill="none" stroke="#111" stroke-width="1.4" stroke-dasharray="6 2.2"/>
<path d="M80.22 74.31L29.70 104.11M42.35 91.16L29.70 104.11L46.92 99.38" fill="none" stroke="#111" stroke-width="1.25"/>
<path d="M80.05 118.31L27.74 146.91M40.98 134.56L27.74 146.91L45.55 142.58" fill="none" stroke="#111" stroke-width="1.25"/>
<text x="83.59" y="80.32" style='font-family:"Liberation Serif", serif;stroke-width:0.45px' font-size="17.6" >99%</text>
<text x="83.42" y="124.32" style='font-family:"Liberation Serif", serif;stroke-width:0.45px' font-size="17.6" >95%</text>
<text x="69.63" y="226.47" style='font-family:"Liberation Serif", serif;stroke-width:0.45px' font-size="17.6" >11.0<tspan dx="3" font-style="italic">a</tspan></text>
<text x="109.09" y="263.02" style='font-family:"Liberation Serif", serif;stroke-width:0.45px' font-size="17.6" >7.9<tspan dx="3" font-style="italic">a</tspan></text>
<text y="6.50" font-size="17.6" text-anchor="end" transform="translate(-8.2 0) scale(0.895 1)">0.2</text>
<text y="80.15" font-size="17.6" text-anchor="end" transform="translate(-8.2 0) scale(0.895 1)">0.15</text>
<text y="153.80" font-size="17.6" text-anchor="end" transform="translate(-8.2 0) scale(0.895 1)">0.1</text>
<text y="227.45" font-size="17.6" text-anchor="end" transform="translate(-8.2 0) scale(0.895 1)">0.05</text>
<text y="301.10" font-size="17.6" text-anchor="end" transform="translate(-8.2 0) scale(0.895 1)">0</text>
<text y="317.90" font-size="17.6" text-anchor="middle" transform="translate(0.00 0) scale(0.895 1)">0</text>
<text y="317.90" font-size="17.6" text-anchor="middle" transform="translate(50.37 0) scale(0.895 1)">0.05</text>
<text y="317.90" font-size="17.6" text-anchor="middle" transform="translate(100.74 0) scale(0.895 1)">0.1</text>
<text y="317.90" font-size="17.6" text-anchor="middle" transform="translate(151.11 0) scale(0.895 1)">0.15</text>
<text y="317.90" font-size="17.6" text-anchor="middle" transform="translate(201.48 0) scale(0.895 1)">0.2</text>
<text y="317.90" font-size="17.6" text-anchor="middle" transform="translate(251.85 0) scale(0.895 1)">0.25</text>
<text y="317.90" font-size="17.6" text-anchor="middle" transform="translate(302.22 0) scale(0.895 1)">0.3</text>
<text y="317.90" font-size="17.6" text-anchor="middle" transform="translate(352.59 0) scale(0.895 1)">0.35</text>
<text y="317.90" font-size="17.6" text-anchor="middle" transform="translate(402.96 0) scale(0.895 1)">0.4</text>
<text y="317.90" font-size="17.6" text-anchor="middle" transform="translate(453.33 0) scale(0.895 1)">0.45</text>
<text y="317.90" font-size="17.6" text-anchor="middle" transform="translate(503.70 0) scale(0.895 1)">0.5</text>
<text x="196.19" y="340.96" font-size="17.6" transform="translate(196.19 0) scale(0.95 1) translate(-196.19 0)">Frequenz <tspan style='font-family:"Liberation Serif", serif;stroke-width:0.45px' font-size="19">[1/<tspan font-style="italic">a</tspan>]</tspan></text>
<text font-size="17.6" transform="translate(-58.50 208.78) rotate(-90)" textLength="122.8" lengthAdjust="spacingAndGlyphs">spektrale Dichte</text>
</g>
</svg>
</body>
</html>
